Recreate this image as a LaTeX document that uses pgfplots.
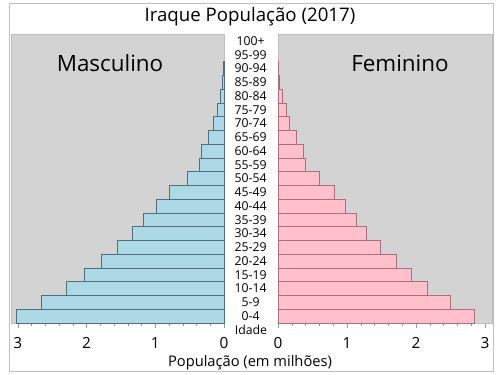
\documentclass[border=0pt]{standalone}
\usepackage{pgfplots}
\pgfplotsset{compat=1.18}
\usepackage{fontspec}
\setmainfont{Open Sans}
\definecolor{panelbg}{RGB}{211,211,211}
\definecolor{framec}{RGB}{190,190,190}
\definecolor{mfill}{RGB}{173,216,230}
\definecolor{medge}{RGB}{80,110,125}
\definecolor{ffill}{RGB}{255,192,203}
\definecolor{fedge}{RGB}{170,110,125}
\pgfplotstableread{
age male female
0 3.02 2.84
1 2.66 2.50
2 2.29 2.16
3 2.04 1.93
4 1.79 1.71
5 1.56 1.48
6 1.34 1.28
7 1.17 1.13
8 0.99 0.97
9 0.79 0.82
10 0.54 0.60
11 0.36 0.40
12 0.33 0.36
13 0.23 0.26
14 0.15 0.16
15 0.10 0.12
16 0.05 0.06
17 0.02 0.02
18 0.005 0.005
}\pop
\pgfplotsset{
  pyr/.style={
    scale only axis,
    width=#1,
    height=216.75pt,
    anchor=south west,
    xmin=0, xmax=3.1,
    ymin=-0.5, ymax=20.5,
    xbar, bar width=1, bar shift=0pt,
    axis background/.style={fill=panelbg},
    axis line style={draw=framec},
    xtick={0,1,2,3},
    minor x tick num=4,
    tick align=outside,
    xtick pos=bottom,
    major tick length=3.5pt,
    minor tick length=2.5pt,
    every tick/.style={draw=framec!80!black, line width=0.4pt},
    /pgf/number format/assume math mode=true,
    xticklabel style={font=\fontsize{11.5}{13}\selectfont, yshift=-4pt},
    clip=false,
  }
}
\begin{document}
\begin{tikzpicture}
\useasboundingbox (0,0) rectangle (375pt,281.25pt);
\fill[white] (0,0) rectangle (375pt,281.25pt);
\draw[framec, line width=0.5pt] (6.75pt,3pt) rectangle (369.75pt,279pt);
\begin{axis}[pyr=159.75pt, at={(8.25pt,39pt)}, x dir=reverse, ytick=\empty]
\addplot[fill=mfill, draw=medge, line width=0.4pt] table[x=male, y=age] {\pop};
\end{axis}
\begin{axis}[pyr=160.5pt, at={(208.5pt,39pt)},
  ytick={0,...,20},
  yticklabels={0-4,5-9,10-14,15-19,20-24,25-29,30-34,35-39,40-44,45-49,50-54,55-59,60-64,65-69,70-74,75-79,80-84,85-89,90-94,95-99,100+},
  ytick pos=left, ytick style={draw=none},
  yticklabel style={anchor=center, xshift=-17pt, font=\fontsize{9.2}{10}\selectfont}]
\addplot[fill=ffill, draw=fedge, line width=0.4pt] table[x=female, y=age] {\pop};
\end{axis}
\node[font=\fontsize{9.2}{10}\selectfont] at (188.25pt,33.75pt) {Idade};
\node[font=\fontsize{14}{16}\selectfont] at (187.5pt,268.5pt) {Iraque População (2017)};
\node[font=\fontsize{16.8}{19}\selectfont] at (82.5pt,234pt) {Masculino};
\node[font=\fontsize{16.8}{19}\selectfont] at (300pt,234pt) {Feminino};
\node[font=\fontsize{11}{13}\selectfont] at (187.5pt,9.5pt) {População (em milhões)};
\end{tikzpicture}
\end{document}
